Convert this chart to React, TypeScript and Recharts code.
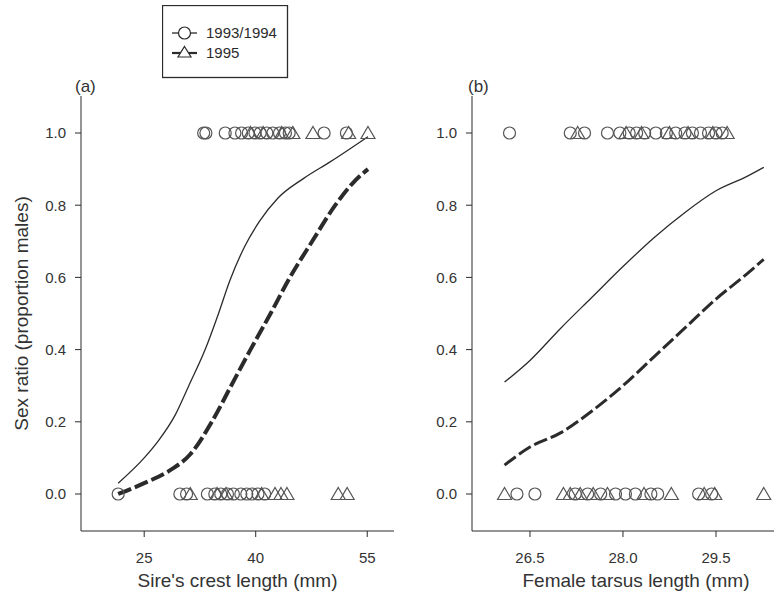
import { ComposedChart, Line, Scatter, XAxis, YAxis } from 'recharts';

// panel (a): sire's crest length (mm)
const crestTopCircles = [33.0, 33.3, 35.9, 37.2, 38.1, 39.0, 39.9, 40.6, 41.5, 42.3, 43.2, 44.0, 44.5, 49.2, 52.2];
const crestTopTriangles = [39.3, 41.0, 43.5, 45.0, 47.7, 52.5, 55.1];
const crestBottomCircles = [21.5, 29.8, 30.7, 33.5, 34.5, 35.3, 36.2, 37.0, 38.0, 38.8, 39.5, 40.3, 41.2];
const crestBottomTriangles = [31.2, 34.8, 36.0, 40.8, 42.6, 43.4, 44.2, 51.1, 52.3];

// fitted curves
const crestCurveX = [21.5, 25, 27, 29.2, 31, 33.2, 35, 36.5, 38.5, 40.5, 43, 46.5, 50, 55.1];
const crestCurve9394 = [0.03, 0.10, 0.15, 0.22, 0.30, 0.40, 0.50, 0.59, 0.685, 0.755, 0.82, 0.875, 0.92, 0.99];
const crestCurve95X = [21.5, 25, 28.5, 31.2, 34.1, 36.7, 39.3, 42.0, 44.6, 47.6, 50.7, 53, 55.1];
const crestCurve95 = [0.0, 0.03, 0.066, 0.11, 0.2, 0.3, 0.4, 0.5, 0.6, 0.7, 0.8, 0.86, 0.9];

// panel (b): female tarsus length (mm)
const tarsusTopCircles = [26.17, 27.15, 27.38, 27.75, 27.95, 28.1, 28.22, 28.35, 28.53, 28.7, 28.85, 29.0, 29.12, 29.25, 29.38, 29.5, 29.6];
const tarsusTopTriangles = [27.27, 28.05, 28.3, 28.75, 29.05, 29.45, 29.68];
const tarsusBottomCircles = [26.29, 26.58, 27.23, 27.43, 27.64, 27.88, 28.04, 28.2, 28.45, 28.56, 29.22, 29.43];
const tarsusBottomTriangles = [26.09, 27.04, 27.15, 27.31, 27.52, 27.75, 28.34, 28.78, 29.31, 29.48, 30.27];

const tarsusCurveX = [26.09, 26.5, 27.0, 27.5, 28.0, 28.5, 29.0, 29.5, 30.0, 30.27];
const tarsusCurve9394 = [0.31, 0.37, 0.46, 0.545, 0.63, 0.71, 0.78, 0.84, 0.88, 0.905];
const tarsusCurve95 = [0.08, 0.13, 0.17, 0.23, 0.30, 0.38, 0.46, 0.54, 0.61, 0.65];

const yTicks = [0, 0.2, 0.4, 0.6, 0.8, 1.0];
const crestTicks = [25, 40, 55];
const tarsusTicks = [26.5, 28.0, 29.5];

const INK = '#2b2b2b';
const FONT = '"Liberation Sans", Arial, sans-serif';

const pts = (xs: number[], y: number) => xs.map(x => ({ x, y }));
const curve = (xs: number[], ys: number[]) => xs.map((x, i) => ({ x, y: ys[i] }));

const Circle = (p: any) => <circle cx={p.cx} cy={p.cy} r={6} fill="none" stroke="#555" strokeWidth={1.2} />;
const Triangle = (p: any) => (
    <path
        d={`M${p.cx},${p.cy - 6.5} L${p.cx + 7},${p.cy + 5.5} L${p.cx - 7},${p.cy + 5.5} Z`}
        fill="none" stroke="#555" strokeWidth={1.2}
    />
);

const tickStyle = { fill: '#333', fontSize: 15, fontFamily: FONT };

function LegendBox() {
    return (
        <svg width={128} height={74} style={{ display: 'block' }}>
            <rect x={0.5} y={0.5} width={125} height={72} fill="#fff" stroke={INK} strokeWidth={1.3} />
            <line x1={10} y1={28} x2={35} y2={28} stroke={INK} strokeWidth={1.3} />
            <circle cx={22.5} cy={28} r={6} fill="#fff" stroke={INK} strokeWidth={1.2} />
            <text x={44} y={33} fontSize={15} fontFamily={FONT} fill={INK}>1993/1994</text>
            <line x1={10} y1={48} x2={35} y2={48} stroke={INK} strokeWidth={2.2} />
            <path d="M22.5,41.5 L29,52 L16,52 Z" fill="#fff" stroke={INK} strokeWidth={1.2} />
            <text x={44} y={53} fontSize={15} fontFamily={FONT} fill={INK}>1995</text>
        </svg>
    );
}

function Panel({
    width, title, domain, ticks, fmt, top, bottom, curveX, solid, dashed, dashedX, thick, yWidth, showYLabel,
}: any) {
    return (
        <ComposedChart
            width={width}
            height={602}
            margin={{ top: 96, right: 0, bottom: 0, left: 0 }}
        >
            <XAxis
                type="number" dataKey="x" domain={domain} ticks={ticks} tickFormatter={fmt}
                allowDataOverflow height={71} tickSize={6} tickMargin={15}
                stroke={INK} tick={tickStyle}
                label={{ value: title, position: 'insideBottom', offset: 15, style: { fontSize: 19, fontFamily: FONT, fill: '#333' } }}
            />
            <XAxis xAxisId="top" orientation="top" type="number" domain={domain} allowDataOverflow height={0} tick={false} tickLine={false} stroke={INK} />
            <YAxis
                type="number" dataKey="y" domain={[-0.1025, 1.1025]} ticks={yTicks} tickFormatter={(v: number) => v.toFixed(1)}
                allowDataOverflow width={yWidth} tickSize={6} tickMargin={9}
                stroke={INK} tick={tickStyle}
                label={showYLabel ? { value: 'Sex ratio (proportion males)', angle: -90, position: 'insideLeft', offset: 21, style: { textAnchor: 'middle', fontSize: 19, fontFamily: FONT, fill: '#333' } } : undefined}
            />
            <YAxis yAxisId="right" orientation="right" domain={[0, 1]} width={0} tick={false} tickLine={false} stroke={INK} />
            <Line data={curve(curveX, solid)} dataKey="y" type="monotone" stroke={INK} strokeWidth={1.3} dot={false} isAnimationActive={false} />
            <Line data={curve(dashedX, dashed)} dataKey="y" type="monotone" stroke={INK} strokeWidth={thick} strokeDasharray="14 4" dot={false} isAnimationActive={false} />
            <Scatter data={top.circles} shape={Circle} isAnimationActive={false} />
            <Scatter data={top.triangles} shape={Triangle} isAnimationActive={false} />
            <Scatter data={bottom.circles} shape={Circle} isAnimationActive={false} />
            <Scatter data={bottom.triangles} shape={Triangle} isAnimationActive={false} />
        </ComposedChart>
    );
}

export default function App() {
    return (
        <div style={{ position: 'absolute', left: 0, top: 0, width: 774, height: 602, overflow: 'hidden', background: '#fff' }}>
            <div style={{ position: 'absolute', left: 0, top: 0 }}>
                <Panel
                    width={394} title="Sire's crest length (mm)" domain={[16.5, 58.6]} ticks={crestTicks}
                    fmt={(v: number) => String(v)}
                    top={{ circles: pts(crestTopCircles, 1), triangles: pts(crestTopTriangles, 1) }}
                    bottom={{ circles: pts(crestBottomCircles, 0), triangles: pts(crestBottomTriangles, 0) }}
                    curveX={crestCurveX} solid={crestCurve9394} dashedX={crestCurve95X} dashed={crestCurve95} thick={4}
                    yWidth={81} showYLabel
                />
            </div>
            <div style={{ position: 'absolute', left: 400, top: 0 }}>
                <Panel
                    width={400} title="Female tarsus length (mm)" domain={[25.565, 30.855]} ticks={tarsusTicks}
                    fmt={(v: number) => v.toFixed(1)}
                    top={{ circles: pts(tarsusTopCircles, 1), triangles: pts(tarsusTopTriangles, 1) }}
                    bottom={{ circles: pts(tarsusBottomCircles, 0), triangles: pts(tarsusBottomTriangles, 0) }}
                    curveX={tarsusCurveX} solid={tarsusCurve9394} dashedX={tarsusCurveX} dashed={tarsusCurve95} thick={3}
                    yWidth={72}
                />
            </div>
            <div style={{ position: 'absolute', left: 162, top: 5 }}>
                <LegendBox />
            </div>
            <div style={{ position: 'absolute', left: 75, top: 77, fontSize: 17, fontFamily: FONT, color: '#333' }}>(a)</div>
            <div style={{ position: 'absolute', left: 468, top: 77, fontSize: 17, fontFamily: FONT, color: '#333' }}>(b)</div>
        </div>
    );
}
